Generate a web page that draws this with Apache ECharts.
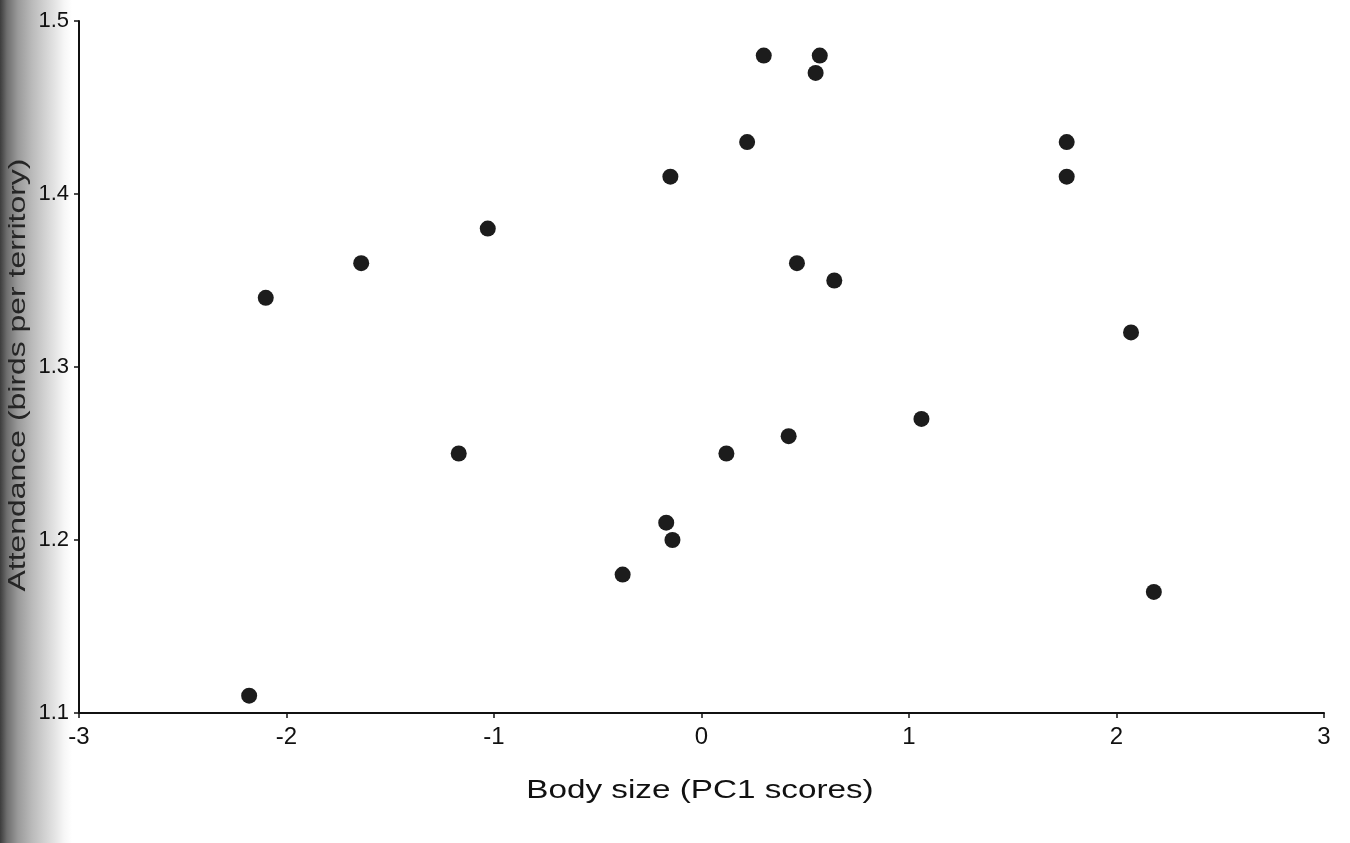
<!DOCTYPE html>
<html>
<head>
<meta charset="utf-8">
<script src="https://cdn.jsdelivr.net/npm/echarts@6/dist/echarts.min.js"></script>
<style>
  html, body { margin: 0; padding: 0; }
  body {
    width: 1350px; height: 843px;
    background: linear-gradient(to right, #3c3c3c 0px, #6e6e6e 7px, #9a9a9a 18px, #bababa 32px, #d2d2d2 45px, #e6e6e6 56px, #f6f6f6 64px, #ffffff 72px);
  }
  #chart { width: 1350px; height: 843px; }
</style>
</head>
<body>
<div id="chart"></div>
<script>
// Body size (PC1 scores)
const bodySize = [-2.18, -2.10, -1.64, -1.17, -1.03, -0.38, -0.17, -0.14, -0.15, 0.12, 0.22, 0.30, 0.42, 0.46, 0.55, 0.57, 0.64, 1.06, 1.76, 1.76, 2.07, 2.18];
// Attendance (birds per territory)
const attendance = [1.11, 1.34, 1.36, 1.25, 1.38, 1.18, 1.21, 1.20, 1.41, 1.25, 1.43, 1.48, 1.26, 1.36, 1.47, 1.48, 1.35, 1.27, 1.43, 1.41, 1.32, 1.17];
const xTicks = [-3, -2, -1, 0, 1, 2, 3];
const yTicks = [1.1, 1.2, 1.3, 1.4, 1.5];
const xTitle = 'Body size (PC1 scores)';
const yTitle = 'Attendance (birds per territory)';

const points = bodySize.map((x, i) => [x, attendance[i]]);

const chart = echarts.init(document.getElementById('chart'), null, { renderer: 'canvas' });
const font = '"Liberation Sans", Arial, sans-serif';
chart.setOption({
  backgroundColor: 'transparent',
  animation: false,
  grid: { left: 79, right: 26, top: 21, bottom: 130, containLabel: false },
  xAxis: {
    type: 'value',
    min: xTicks[0], max: xTicks[xTicks.length - 1], interval: 1,
    axisLine: { show: true, onZero: false, lineStyle: { color: '#111', width: 2 } },
    axisTick: { show: true, inside: false, length: 5, lineStyle: { color: '#111', width: 1.5 } },
    axisLabel: { color: '#111', fontSize: 24, fontFamily: font, margin: 12 },
    splitLine: { show: false }
  },
  yAxis: {
    type: 'value',
    min: yTicks[0], max: yTicks[yTicks.length - 1], interval: 0.1,
    axisLine: { show: true, onZero: false, lineStyle: { color: '#111', width: 2 } },
    axisTick: { show: true, inside: false, length: 5, lineStyle: { color: '#111', width: 1.5 } },
    axisLabel: { color: '#111', fontSize: 22, fontFamily: font, margin: 10,
      formatter: v => v.toFixed(1) },
    splitLine: { show: false }
  },
  graphic: [
    {
      type: 'text', x: 700, y: 791, scaleX: 1.33,
      style: { text: xTitle, fill: '#111', font: '25px ' + font, textAlign: 'center', textVerticalAlign: 'middle' }
    },
    {
      type: 'text', x: 18, y: 375, rotation: Math.PI / 2, scaleX: 1.33,
      style: { text: yTitle, fill: '#252525', font: '24px ' + font, textAlign: 'center', textVerticalAlign: 'middle' }
    }
  ],
  series: [{
    type: 'scatter',
    data: points,
    symbol: 'circle',
    symbolSize: 16,
    itemStyle: { color: '#1c1c1c', opacity: 1 }
  }]
});
</script>
</body>
</html>
